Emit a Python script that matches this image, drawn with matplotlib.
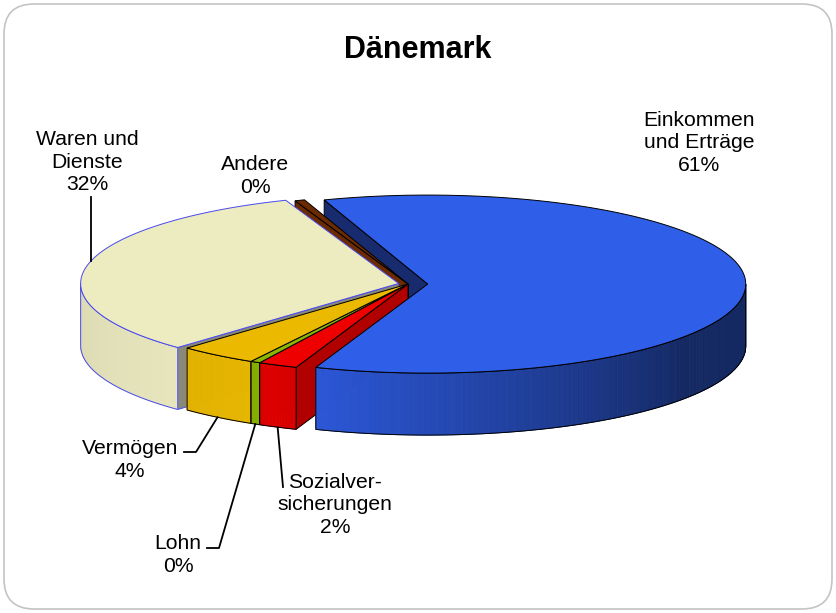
import numpy as np
import matplotlib.pyplot as plt
from matplotlib.patches import Polygon, FancyBboxPatch
from matplotlib.colors import to_rgb

plt.rcParams['font.family'] = ['Liberation Sans', 'DejaVu Sans']

# --- data (clockwise from the top, like the Excel chart) ---
title = 'Dänemark'
labels = ['Einkommen\nund Erträge', 'Sozialver-\nsicherungen', 'Lohn',
          'Vermögen', 'Waren und\nDienste', 'Andere']
shares = [61.0, 2.0, 0.5, 4.0, 32.0, 0.5]

top_colors = ['#2F5FE8', '#EE0000', '#8DB600', '#EBBA00', '#EDEBC0', '#6B2A00']
wall_colors = ['#2D5ADE', '#DD0000', '#86AE00', '#E6B600', '#ECEAC0', '#6B2A00']
face_colors = ['#172B6E', '#B00000', '#5E7A00', '#A07E00', '#8A8976', '#6B2A00']
edge_colors = ['black', 'black', 'black', 'black', '#4A4AF0', 'black']
explode = [0.062, 0, 0, 0, 0.03, 0]

# label block centres and leader bends (pixel layout)
label_pos = [(699, 143), (335, 505), (178, 555), (130, 460), (87, 162), (255, 176)]
leader_pts = [None, [(283, 487)], [(219, 548), (207, 548)],
              [(196, 452), (184, 452)], [(91, 197)], None]
leader_on_top = [False, False, False, False, True, False]

# --- 3d pie geometry (pixels) ---
cx, cy = 408, 284
a, b = 318, 89
depth = 62
start = 109.0

fig = plt.figure(figsize=(8.36, 6.13), dpi=100)
ax = fig.add_axes([0, 0, 1, 1])
ax.set_xlim(0, 836)
ax.set_ylim(613, 0)
ax.axis('off')

ax.add_patch(FancyBboxPatch((4, 4), 828, 605, boxstyle='round,pad=0,rounding_size=30',
                            fc='white', ec='#C4C4C4', lw=1.2, zorder=0))


def pt(t, r=1.0, z=0.0, off=(0, 0)):
    t = np.radians(t)
    return (cx + off[0] + r * a * np.cos(t), cy + off[1] - r * b * np.sin(t) + z)


def shade(t):
    t = t % 360
    if t < 245:
        return 1 - 0.07 * (245 - t) / 65
    return max(0.44, 1 - 0.56 * (t - 245) / 80)


slices = []
t0 = start
for i, v in enumerate(shares):
    t1 = t0 - v * 3.6
    m = np.radians((t0 + t1) / 2)
    off = (explode[i] * a * np.cos(m), -explode[i] * b * np.sin(m))
    slices.append((i, t0, t1, off))
    t0 = t1

# radial faces (back ones first)
faces = []
for i, t0, t1, off in slices:
    if np.cos(np.radians(t0)) < 0:
        faces.append((np.sin(np.radians(t0)), i, t0, off))
    if np.cos(np.radians(t1)) > 0:
        faces.append((np.sin(np.radians(t1)), i, t1, off))
faces.sort(key=lambda f: -f[0])
for _, i, t, off in faces:
    poly = [pt(t, 0, 0, off), pt(t, 1, 0, off), pt(t, 1, depth, off), pt(t, 0, depth, off)]
    ax.add_patch(Polygon(poly, closed=True, fc=face_colors[i], ec=edge_colors[i],
                         lw=0.7, zorder=2))

# outer walls (front half only)
for i, t0, t1, off in slices:
    for lo, hi in [(-180, 0), (180, 360)]:
        w0, w1 = max(t1, lo), min(t0, hi)
        if w1 <= w0:
            continue
        ts = np.linspace(w0, w1, max(int((w1 - w0) * 2), 2))
        base = np.array(to_rgb(wall_colors[i]))
        for k in range(len(ts) - 1):
            q = [pt(ts[k], 1, 0, off), pt(ts[k + 1], 1, 0, off),
                 pt(ts[k + 1], 1, depth, off), pt(ts[k], 1, depth, off)]
            c = np.clip(base * shade((ts[k] + ts[k + 1]) / 2), 0, 1)
            ax.add_patch(Polygon(q, closed=True, fc=c, ec=c, lw=0.6, zorder=3))
        outline = [pt(t, 1, 0, off) for t in ts] + [pt(t, 1, depth, off) for t in ts[::-1]]
        ax.add_patch(Polygon(outline, closed=True, fill=False, ec=edge_colors[i],
                             lw=0.7, zorder=4))

# top faces
for i, t0, t1, off in slices:
    ts = np.linspace(t0, t1, max(int((t0 - t1) * 2), 2))
    poly = [pt(t0, 0, 0, off)] + [pt(t, 1, 0, off) for t in ts]
    ax.add_patch(Polygon(poly, closed=True, fc=top_colors[i], ec=edge_colors[i],
                         lw=0.7, zorder=5))

# labels and leader lines
for i, t0, t1, off in slices:
    pct = f'{round(shares[i])}%'
    x, y = label_pos[i]
    ax.text(x, y, labels[i] + '\n' + pct, ha='center', va='center',
            fontsize=15.2, linespacing=1.24, color='black', zorder=7)
    if leader_pts[i] is not None:
        if leader_on_top[i]:
            # attach where the rim meets the vertical leader
            lx = leader_pts[i][0][0]
            t = 180 - np.degrees(np.arccos((cx + off[0] - lx) / a))
            p0 = pt(t, 1, 0, off)
        else:
            p0 = pt((t0 + t1) / 2, 1, depth, off)
        pts = [p0] + leader_pts[i]
        ax.plot([p[0] for p in pts], [p[1] for p in pts], color='black', lw=1.3, zorder=6)

ax.text(418, 50, title, ha='center', va='center', fontsize=22, fontweight='bold', zorder=7)

fig.savefig('out.png', dpi=100)
